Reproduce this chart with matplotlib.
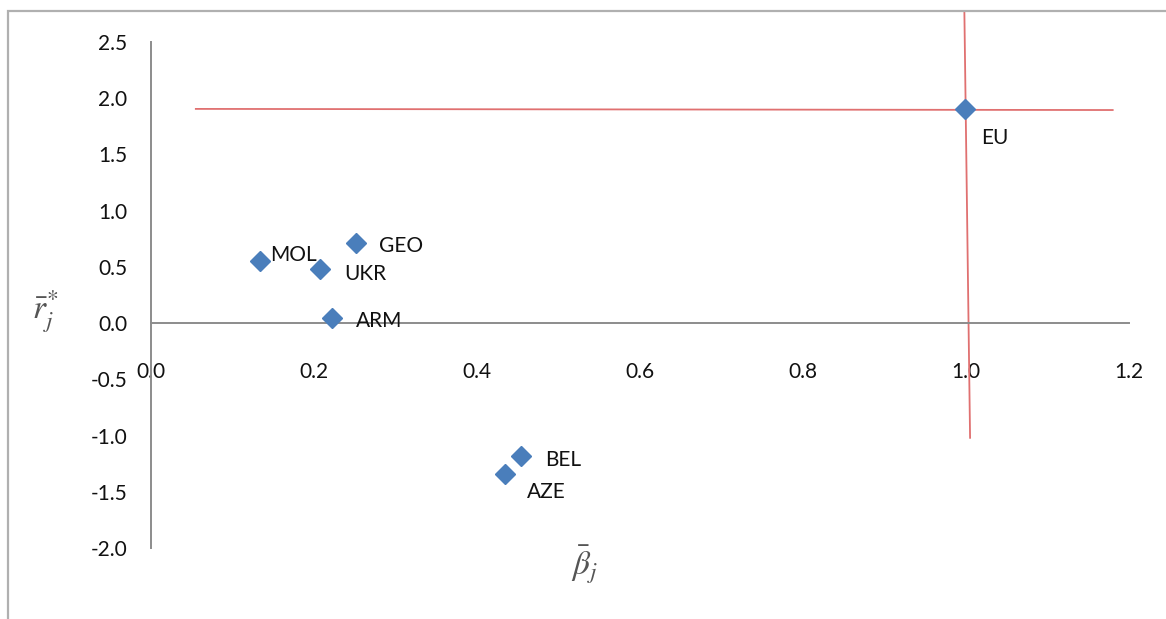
import matplotlib.pyplot as plt
from matplotlib.patches import Rectangle
from matplotlib.ticker import FormatStrFormatter

countries = ["MOL", "UKR", "GEO", "ARM", "BEL", "AZE", "EU"]
beta = [0.134, 0.207, 0.252, 0.222, 0.454, 0.434, 0.999]
r_star = [0.55, 0.48, 0.71, 0.045, -1.18, -1.34, 1.90]

# red reference cross through EU
cross_h_x = [0.055, 1.18]
cross_h_y = [1.905, 1.895]
cross_v_x = [0.998, 1.005]
cross_v_y = [2.77, -1.02]

x_ticks = [0.0, 0.2, 0.4, 0.6, 0.8, 1.0, 1.2]
y_ticks = [-2.0, -1.5, -1.0, -0.5, 0.0, 0.5, 1.0, 1.5, 2.0, 2.5]

# label offsets in pixels (dx, dy)
label_offsets = [(10, 6), (25, -5), (23, -3), (24, -3), (24, -4), (22, -18), (16, -29)]

plt.rcParams["font.family"] = ["Lato", "DejaVu Sans"]
plt.rcParams["mathtext.fontset"] = "stix"

fig = plt.figure(figsize=(11.66, 6.19), dpi=100)
W, H = 1166, 619
ax = fig.add_axes([151 / W, 1 - 548 / H, (1129 - 151) / W, (548 - 42) / H])

# outer frame
fig.patches.append(Rectangle((8 / W, -0.1), 1.2, 1 - 11 / H + 0.1, transform=fig.transFigure,
                             fill=False, edgecolor="#b0b0b0", linewidth=1.6))

ax.plot(cross_h_x, cross_h_y, color="#e07070", lw=1.3, clip_on=False, zorder=2)
ax.plot(cross_v_x, cross_v_y, color="#e07070", lw=1.3, clip_on=False, zorder=2)

ax.plot(beta, r_star, linestyle="none", marker="D", ms=10, color="#4a7ebb", zorder=3)

for name, x, y, (dx, dy) in zip(countries, beta, r_star, label_offsets):
    ax.annotate(name, (x, y), xytext=(dx, dy), textcoords="offset pixels",
                ha="left", va="center", fontsize=15, color="#111111")

ax.set_xlim(0, 1.2)
ax.set_ylim(-2.0, 2.5)
ax.set_xticks(x_ticks)
ax.set_yticks(y_ticks)
ax.xaxis.set_major_formatter(FormatStrFormatter("%.1f"))
ax.yaxis.set_major_formatter(FormatStrFormatter("%.1f"))
ax.tick_params(axis="x", length=0, pad=28, labelsize=15, labelcolor="#111111")
ax.tick_params(axis="y", length=0, pad=17, labelsize=15, labelcolor="#111111")

for side in ("top", "right"):
    ax.spines[side].set_visible(False)
ax.spines["bottom"].set_position(("data", 0))
for side in ("left", "bottom"):
    ax.spines[side].set_color("#8c8c8c")
    ax.spines[side].set_linewidth(1.4)
ax.patch.set_alpha(0)

fig.text(45 / W, 1 - 312 / H, r"$\bar{r}_j^{\!*}$", fontsize=24, color="#555555",
         ha="center", va="center")
fig.text(585 / W, 1 - 565 / H, r"$\bar{\beta}_j$", fontsize=24, color="#555555",
         ha="center", va="center")

fig.savefig("out.png", dpi=100)
